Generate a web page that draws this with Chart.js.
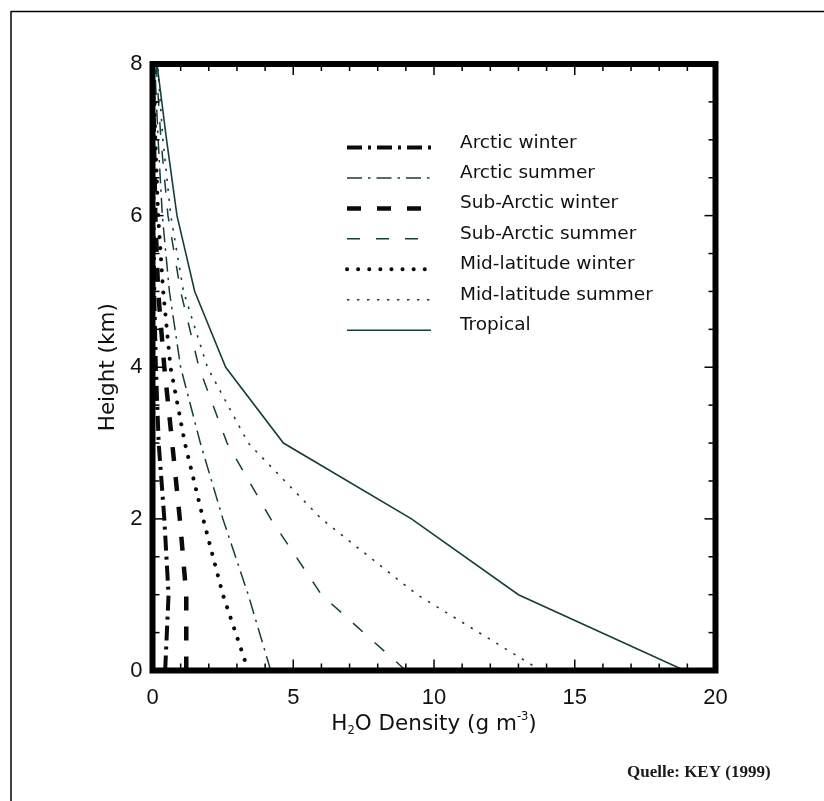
<!DOCTYPE html>
<html>
<head>
<meta charset="utf-8">
<title>H2O Density</title>
<script src="https://cdn.jsdelivr.net/npm/chart.js@4/dist/chart.umd.min.js"></script>
<style>
  html, body { margin: 0; padding: 0; background: #fff; }
  #chart { display: block; }
</style>
</head>
<body>
<canvas id="chart" width="824" height="801"></canvas>
<script>
// Wasserdampfdichte (g/m3) über der Höhe für sieben Standardatmosphären

const heights = [0, 1, 2, 3, 4, 5, 6, 7, 8]; // km

const arcticWinter    = [0.45, 0.57, 0.42, 0.22, 0.12, 0.06, 0.03, 0.015, 0.005];
const arcticSummer    = [4.2, 3.4, 2.5, 1.7, 1.0, 0.6, 0.35, 0.2, 0.08];
const subArcticWinter = [1.2, 1.2, 0.97, 0.7, 0.42, 0.2, 0.1, 0.05, 0.01];
const subArcticSummer = [9.0, 6.0, 4.2, 2.65, 1.65, 1.0, 0.55, 0.3, 0.13];
const midLatWinter    = [3.4, 2.5, 1.8, 1.15, 0.64, 0.38, 0.2, 0.1, 0.04];
const midLatSummer    = [13.8, 9.4, 6.0, 3.4, 1.95, 1.1, 0.65, 0.37, 0.18];
const tropical        = [18.9, 13.0, 9.2, 4.65, 2.6, 1.5, 0.87, 0.5, 0.16];

const seriesNames = [
  'Arctic winter', 'Arctic summer', 'Sub-Arctic winter', 'Sub-Arctic summer',
  'Mid-latitude winter', 'Mid-latitude summer', 'Tropical'
];

const xTicks = [0, 5, 10, 15, 20];
const yTicks = [0, 2, 4, 6, 8];

const THICK = '#0a0a0a';
const THIN = '#173d3d';

function profile(values) {
  return values.map((v, i) => ({ x: v, y: heights[i] }));
}

function series(name, values, color, width, dash, cap) {
  return {
    label: name,
    data: profile(values),
    showLine: true,
    borderColor: color,
    borderWidth: width,
    borderDash: dash,
    borderCapStyle: cap || 'butt',
    pointRadius: 0,
    tension: 0,
    fill: false
  };
}

const datasets = [
  series(seriesNames[0], arcticWinter, THICK, 4, [15, 6, 3, 6]),
  series(seriesNames[1], arcticSummer, THIN, 1.5, [15, 6, 2.5, 6]),
  series(seriesNames[2], subArcticWinter, THICK, 4.5, [14, 16]),
  series(seriesNames[3], subArcticSummer, THIN, 1.5, [13, 16]),
  series(seriesNames[4], midLatWinter, THICK, 4, [0.1, 11], 'round'),
  series(seriesNames[5], midLatSummer, THIN, 1.6, [2.4, 7.6]),
  series(seriesNames[6], tropical, THIN, 1.6, [])
];

// Rahmen, Ticks nach innen, Achsentitel, Legende, Quelle
const decorations = {
  id: 'decorations',
  afterDraw(chart) {
    const { ctx, chartArea: a, scales: { x, y } } = chart;
    ctx.save();

    const seg = (x1, y1, x2, y2) => {
      ctx.beginPath(); ctx.moveTo(x1, y1); ctx.lineTo(x2, y2); ctx.stroke();
    };

    // Seitenrahmen
    ctx.strokeStyle = '#000';
    ctx.lineWidth = 1.5;
    seg(11, 11.5, 824, 11.5);
    seg(11, 11, 11, 801);

    // Achsenrahmen
    ctx.lineWidth = 6;
    ctx.lineJoin = 'miter';
    ctx.strokeRect(a.left, a.top, a.right - a.left, a.bottom - a.top);

    // Ticks
    ctx.lineWidth = 1.5;
    for (let v = x.min; v <= x.max; v += 1) {
      const px = x.getPixelForValue(v);
      const len = v % 5 === 0 ? 11 : 7;
      seg(px, a.bottom, px, a.bottom - len);
      seg(px, a.top, px, a.top + len);
    }
    for (let v = y.min; v <= y.max; v += 0.5) {
      const py = y.getPixelForValue(v);
      const len = v % 2 === 0 ? 11 : 7;
      seg(a.left, py, a.left + len, py);
      seg(a.right, py, a.right - len, py);
    }

    ctx.fillStyle = '#111';

    // y-Titel
    ctx.save();
    ctx.translate(108, (a.top + a.bottom) / 2);
    ctx.rotate(-Math.PI / 2);
    ctx.font = '21.5px "DejaVu Sans", sans-serif';
    ctx.textAlign = 'center';
    ctx.textBaseline = 'middle';
    ctx.fillText('Height (km)', 0, 0);
    ctx.restore();

    // x-Titel mit Index und Exponent
    const big = '21.5px "DejaVu Sans", sans-serif';
    const small = '11.5px "DejaVu Sans", sans-serif';
    const parts = [
      { t: 'H', f: big, dy: 0 },
      { t: '2', f: small, dy: 4 },
      { t: 'O Density (g m', f: big, dy: 0 },
      { t: '-3', f: small, dy: -10 },
      { t: ')', f: big, dy: 0 }
    ];
    let total = 0;
    parts.forEach(p => { ctx.font = p.f; p.w = ctx.measureText(p.t).width; total += p.w; });
    let cx = (a.left + a.right) / 2 - total / 2;
    ctx.textAlign = 'left';
    ctx.textBaseline = 'alphabetic';
    parts.forEach(p => { ctx.font = p.f; ctx.fillText(p.t, cx, 730 + p.dy); cx += p.w; });

    // Legende
    const lx0 = 347, lx1 = 431, tx = 460, by0 = 147.5, step = 30.45;
    chart.data.datasets.forEach((ds, i) => {
      const by = by0 + i * step;
      ctx.save();
      ctx.strokeStyle = ds.borderColor;
      ctx.lineWidth = ds.borderWidth;
      ctx.lineCap = ds.borderCapStyle;
      ctx.setLineDash(ds.borderDash);
      seg(lx0, by, lx1, by);
      ctx.restore();
      ctx.font = '18.5px "DejaVu Sans", sans-serif';
      ctx.fillStyle = '#111';
      ctx.fillText(ds.label, tx, by);
    });

    // Quelle
    ctx.font = 'bold 17px "Liberation Serif", serif';
    ctx.fillStyle = '#1a1a1a';
    ctx.fillText('Quelle: KEY (1999)', 627, 777);

    ctx.restore();
  }
};

Chart.defaults.font.family = '"Liberation Sans", Arial, sans-serif';
Chart.defaults.color = '#111';

new Chart(document.getElementById('chart'), {
  type: 'scatter',
  data: { datasets },
  options: {
    responsive: false,
    animation: false,
    layout: { padding: { top: 64, right: 108.5, left: 0, bottom: 0 } },
    plugins: { legend: { display: false }, tooltip: { enabled: false } },
    scales: {
      x: {
        type: 'linear', min: 0, max: 20,
        afterFit: s => { s.height = 130.5; },
        afterBuildTicks: s => { s.ticks = xTicks.map(v => ({ value: v })); },
        grid: { display: false, drawTicks: false },
        border: { display: false },
        ticks: { padding: 14, font: { size: 22 }, maxRotation: 0 }
      },
      y: {
        type: 'linear', min: 0, max: 8,
        afterFit: s => { s.width = 152.5; },
        afterBuildTicks: s => { s.ticks = yTicks.map(v => ({ value: v })); },
        grid: { display: false, drawTicks: false },
        border: { display: false },
        ticks: { padding: 10, font: { size: 22 } }
      }
    }
  },
  plugins: [decorations]
});
</script>
</body>
</html>
